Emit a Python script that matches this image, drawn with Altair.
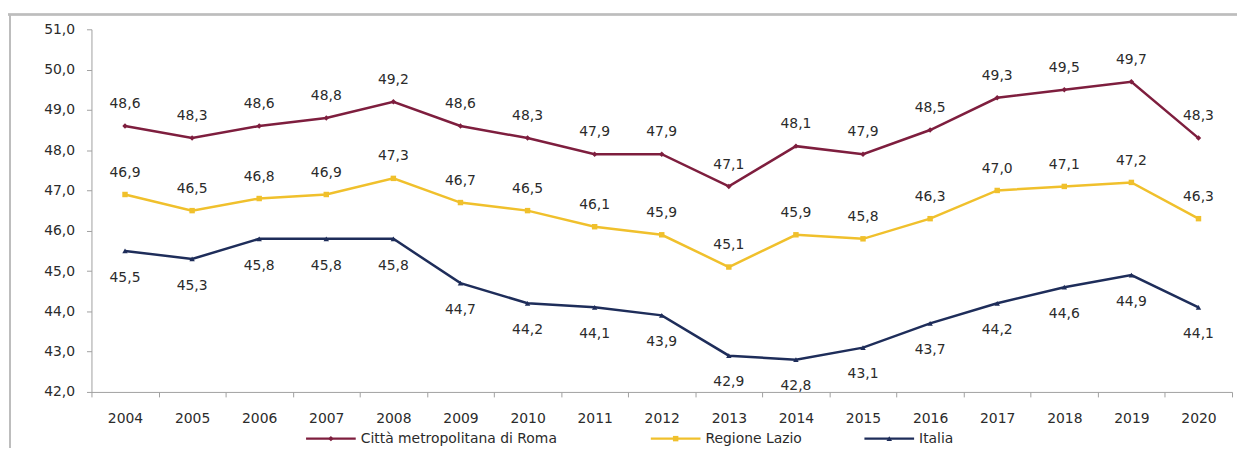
import altair as alt
import pandas as pd

years = [str(y) for y in range(2004, 2021)]
roma = [48.6, 48.3, 48.6, 48.8, 49.2, 48.6, 48.3, 47.9, 47.9, 47.1, 48.1, 47.9, 48.5, 49.3, 49.5, 49.7, 48.3]
lazio = [46.9, 46.5, 46.8, 46.9, 47.3, 46.7, 46.5, 46.1, 45.9, 45.1, 45.9, 45.8, 46.3, 47.0, 47.1, 47.2, 46.3]
italia = [45.5, 45.3, 45.8, 45.8, 45.8, 44.7, 44.2, 44.1, 43.9, 42.9, 42.8, 43.1, 43.7, 44.2, 44.6, 44.9, 44.1]

series_names = ["Città metropolitana di Roma", "Regione Lazio", "Italia"]
series_colors = ["#7E1E3E", "#F0C02C", "#1E2D5A"]
series_shapes = ["diamond", "square", "triangle-up"]

rows = []
for name, vals in zip(series_names, [roma, lazio, italia]):
    for y, v in zip(years, vals):
        rows.append({"anno": y, "serie": name, "valore": v,
                     "etichetta": f"{v:.1f}".replace(".", ",")})
df = pd.DataFrame(rows)

FONT = "DejaVu Sans"
TXT = "#2b2b2b"
FS = 14

x = alt.X("anno:O", sort=years,
          scale=alt.Scale(type="band", paddingInner=0, paddingOuter=0),
          axis=alt.Axis(title=None, labelAngle=0, tickBand="extent", tickSize=5,
                        labelPadding=15, labelFontSize=FS, labelFont=FONT, labelColor=TXT,
                        domainColor="#A0A0A0", tickColor="#A0A0A0", grid=False))
y = alt.Y("valore:Q",
          scale=alt.Scale(domain=[42, 51], nice=False, zero=False),
          axis=alt.Axis(title=None, values=list(range(42, 52)), tickSize=5, labelPadding=12,
                        labelExpr="replace(format(datum.value, '.1f'), '.', ',')",
                        labelFontSize=FS, labelFont=FONT, labelColor=TXT,
                        domainColor="#A0A0A0", tickColor="#A0A0A0", grid=False))

base = alt.Chart(df)
lines = base.mark_line(strokeWidth=2.5).encode(
    x=x, y=y,
    color=alt.Color("serie:N", sort=series_names,
                    scale=alt.Scale(domain=series_names, range=series_colors), legend=None))

point_layers = []
for name, col, shp in zip(series_names, series_colors, series_shapes):
    point_layers.append(
        base.transform_filter(alt.datum.serie == name)
        .mark_point(filled=True, size=30, opacity=1, shape=shp, color=col)
        .encode(x=x, y=y)
    )

lab_above = base.transform_filter(alt.datum.serie != "Italia").mark_text(
    dy=-22, fontSize=FS, font=FONT, color=TXT).encode(x=x, y=y, text="etichetta:N")
lab_below = base.transform_filter(alt.datum.serie == "Italia").mark_text(
    dy=27, fontSize=FS, font=FONT, color=TXT).encode(x=x, y=y, text="etichetta:N")

# manual legend (below the axis), relative to plot-area origin
legend_df = pd.DataFrame({"serie": series_names})
leg_x0 = [216, 563, 778]   # start of each legend line
leg_y = 412
legend_layers = []
for name, col, shp, x0 in zip(series_names, series_colors, series_shapes, leg_x0):
    one = alt.Chart(legend_df).transform_filter(alt.datum.serie == name)
    legend_layers.append(one.mark_rule(color=col, strokeWidth=2.5).encode(
        x=alt.value(x0), x2=alt.value(x0 + 50), y=alt.value(leg_y)))
    legend_layers.append(one.mark_point(filled=True, size=30, opacity=1, shape=shp, color=col).encode(
        x=alt.value(x0 + 25), y=alt.value(leg_y)))
    legend_layers.append(one.mark_text(align="left", baseline="middle", fontSize=FS, font=FONT,
                                       color=TXT).encode(
        x=alt.value(x0 + 55), y=alt.value(leg_y), text="serie:N"))

frame_top = alt.Chart(legend_df).mark_rule(color="#BDBDBD", strokeWidth=2).encode(
    x=alt.value(-84), x2=alt.value(1160), y=alt.value(-15))
frame_left = alt.Chart(legend_df).mark_rule(color="#BDBDBD", strokeWidth=2).encode(
    x=alt.value(-82), y=alt.value(-15), y2=alt.value(430))

chart = alt.layer(frame_top, frame_left, lines, *point_layers, lab_above, lab_below,
                  *legend_layers).properties(
    width=1148, height=365,
    autosize=alt.AutoSizeParams(type="none"),
    padding={"left": 84, "top": 20, "right": 5, "bottom": 55},
    background="white",
).configure_view(stroke=None)

chart.save("out.html", embed_options={"renderer": "svg", "actions": False})
